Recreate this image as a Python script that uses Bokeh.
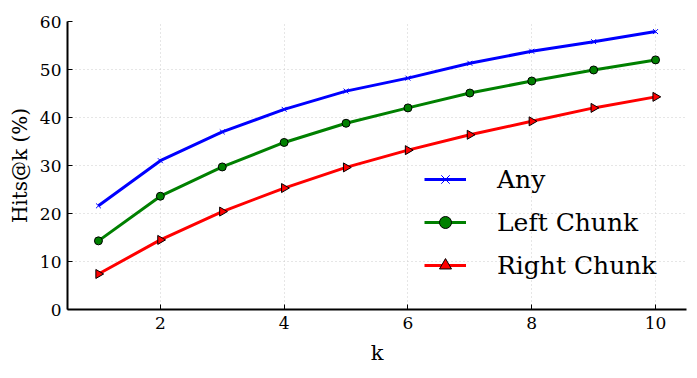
import numpy as np
from bokeh.plotting import figure
from bokeh.models import Legend, LegendItem, Range1d, FixedTicker
from bokeh.embed import file_html
from bokeh.resources import INLINE

k = [1, 2, 3, 4, 5, 6, 7, 8, 9, 10]
any_hits = [21.6, 31.0, 37.0, 41.7, 45.5, 48.2, 51.3, 53.8, 55.8, 57.9]
left_hits = [14.3, 23.6, 29.7, 34.8, 38.8, 42.0, 45.1, 47.6, 49.9, 52.0]
right_hits = [7.4, 14.5, 20.4, 25.3, 29.6, 33.2, 36.4, 39.2, 42.0, 44.3]
labels = ["Any", "Left Chunk", "Right Chunk"]
x_ticks = [2, 4, 6, 8, 10]
y_ticks = [0, 10, 20, 30, 40, 50, 60]

FONT = "DejaVu Serif"

p = figure(frame_width=619, frame_height=288, output_backend="svg", toolbar_location=None,
           x_range=Range1d(0.5, 10.5), y_range=Range1d(0, 60),
           min_border_left=67, min_border_right=2, min_border_top=21, min_border_bottom=60)
p.outline_line_color = None

for ax in (p.xaxis[0], p.yaxis[0]):
    ax.axis_line_color = "black"
    ax.axis_line_width = 2
    ax.major_tick_in = 5
    ax.major_tick_out = 0
    ax.minor_tick_in = 0
    ax.minor_tick_out = 0
    ax.major_tick_line_color = "black"
    ax.major_label_text_font = FONT
    ax.major_label_text_font_size = "17px"
    ax.major_label_text_color = "black"
    ax.axis_label_text_font = FONT
    ax.axis_label_text_font_style = "normal"
    ax.axis_label_text_color = "black"

p.xaxis.ticker = FixedTicker(ticks=x_ticks)
p.yaxis.ticker = FixedTicker(ticks=y_ticks)
p.xaxis.axis_label = "k"
p.yaxis.axis_label = "Hits@k (%)"
p.xaxis.axis_label_text_font_size = "21px"
p.yaxis.axis_label_text_font_size = "20px"
p.xaxis.major_label_standoff = 7
p.yaxis.major_label_standoff = 6
p.xaxis.axis_label_standoff = 9
p.yaxis.axis_label_standoff = 5

for g in (p.xgrid[0], p.ygrid[0]):
    g.grid_line_color = "#cccccc"
    g.grid_line_dash = "1 3"
    g.grid_line_width = 1

l1 = p.line(k, any_hits, color="#0000ff", line_width=3)
m1 = p.scatter(k, any_hits, marker="x", size=7, line_color="#0000ff", line_width=1)
l2 = p.line(k, left_hits, color="#008000", line_width=3)
m2 = p.scatter(k, left_hits, marker="circle", size=8, fill_color="#008000", line_color="black", line_width=1)
l3 = p.line(k, right_hits, color="#ff0000", line_width=3)
m3 = p.scatter(k, right_hits, marker="triangle", size=9, angle=-np.pi / 2,
               fill_color="#ff0000", line_color="black", line_width=1)

legend = Legend(items=[LegendItem(label=labels[0], renderers=[l1, m1]),
                       LegendItem(label=labels[1], renderers=[l2, m2]),
                       LegendItem(label=labels[2], renderers=[l3, m3])],
                location=(357, 29))
legend.border_line_color = None
legend.background_fill_alpha = 0
legend.padding = 0
legend.margin = 0
legend.spacing = 13
legend.glyph_width = 42
legend.glyph_height = 30
legend.label_height = 30
legend.label_standoff = 31
legend.label_text_font = FONT
legend.label_text_font_size = "25px"
legend.label_text_color = "black"
p.add_layout(legend)

open("out.html", "w").write(file_html(p, INLINE))
